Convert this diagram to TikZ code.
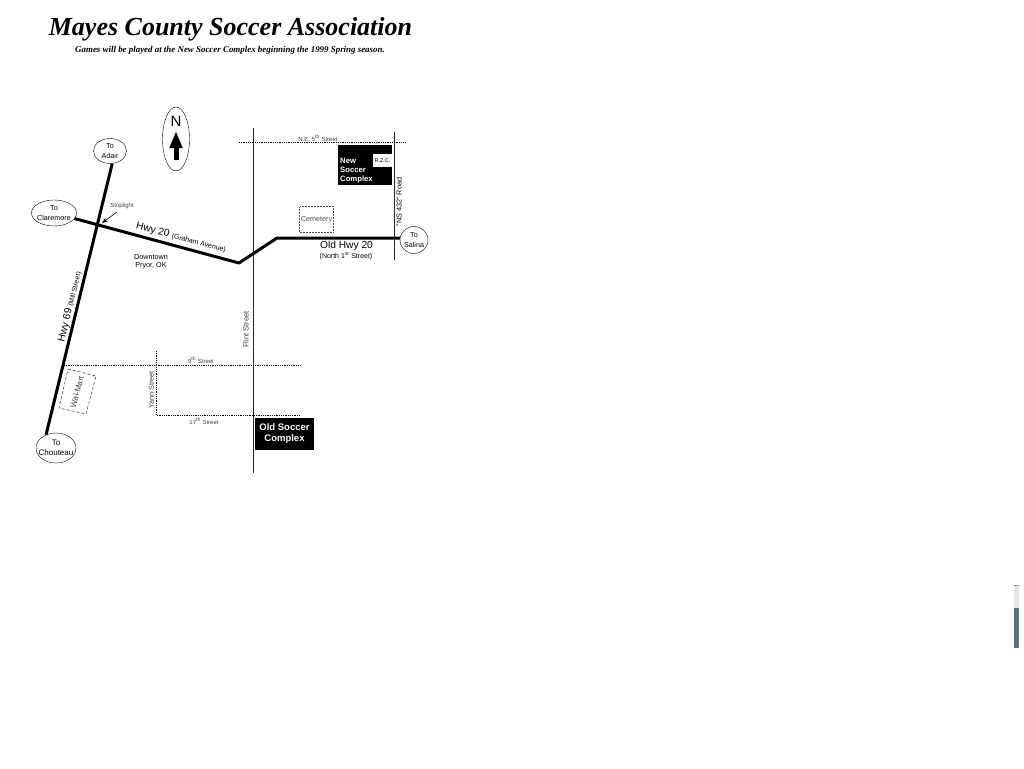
\documentclass[tikz,border=0pt]{standalone}
\usepackage{fontspec}
\setmainfont{Liberation Sans}
\newfontfamily\titlefont{Liberation Serif}
\usetikzlibrary{shapes.geometric,arrows.meta}
\definecolor{scrollthumb}{RGB}{92,112,132}
\tikzset{
  townnode/.style={shape=ellipse, draw, inner xsep=-5pt, inner ysep=-3pt, align=center, font=\fontsize{7.2}{9.5}\selectfont, fill=white},
  hwyline/.style={line width=3pt, line join=round},
  streetline/.style={line width=.8pt, densely dotted},
  flintline/.style={line width=1pt, black!85},
  smalllabel/.style={font=\fontsize{6}{7}\selectfont, text=black!75, inner sep=0pt},
  hwylabel/.style={font=\fontsize{10.2}{11}\selectfont, inner sep=0pt},
  blackbox/.style={fill=black, text=white, font=\bfseries\fontsize{7.7}{8.8}\selectfont, inner sep=0pt, align=left}
}
\begin{document}
\begin{tikzpicture}[x=1pt,y=-1pt]
\useasboundingbox (0,0) rectangle (1024,768);
\node[font=\titlefont\bfseries\itshape\fontsize{26}{30}\selectfont, inner sep=0pt, anchor=base] (title) at (230.5,35.5) {Mayes County Soccer Association};
\node[font=\titlefont\bfseries\itshape\fontsize{8.9}{10}\selectfont, inner sep=0pt] (subtitle) at (230,50) {Games will be played at the New Soccer Complex beginning the 1999 Spring season.};
% north sign
\node[shape=ellipse, draw, minimum width=27pt, minimum height=64pt] (north) at (176,139) {};
\node[font=\fontsize{15}{15}\selectfont, inner sep=0pt] (northN) at (176,121) {N};
\coordinate (arrowfoot) at (176,160);
\coordinate (arrowhead) at (176,131);
\draw[line width=5pt, -{Triangle[length=17pt,width=12pt]}] (arrowfoot)--(arrowhead);
% towns
\node[townnode, minimum width=33pt, minimum height=25pt] (adair) at (110,151) {To\\Adair};
\node[townnode, minimum width=45pt, minimum height=26pt] (claremore) at (54,213) {To\\Claremore};
\node[townnode, minimum width=40pt, minimum height=30pt, font=\fontsize{8}{10}\selectfont] (chouteau) at (56,448) {To\\Chouteau};
\node[townnode, minimum width=28pt, minimum height=27pt] (salina) at (414,240) {To\\Salina};
% highways
\coordinate (bendlow) at (239,263);
\coordinate (bendhigh) at (277,238);
\draw[hwyline] (adair.280)--(chouteau.127);
\draw[hwyline] (claremore)--(bendlow)--(bendhigh)--(salina.172);
% streets
\coordinate (flinttop) at (253,128);
\coordinate (flintfoot) at (253,473);
\coordinate (fifthleft) at (239,142);
\coordinate (fifthright) at (405,142);
\coordinate (roadtop) at (394,132);
\coordinate (roadfoot) at (394,260);
\coordinate (ninthleft) at (64,365);
\coordinate (ninthright) at (301,365);
\coordinate (yanntop) at (156,351);
\coordinate (yannfoot) at (156,415);
\coordinate (seventeenthright) at (300,415);
\draw[flintline] (flinttop)--(flintfoot);
\draw[flintline] (roadtop)--(roadfoot);
\draw[streetline] (fifthleft)--(fifthright);
\draw[streetline] (ninthleft)--(ninthright);
\draw[streetline] (yanntop)--(yannfoot)--(seventeenthright);
% places
\draw[densely dashed, line width=.5pt, black!80] (68,369)--(96,376)--(86,414)--(59,408)--cycle;
\node[smalllabel, rotate=75, font=\fontsize{8}{9}\selectfont] (walmart) at (77,392) {Wal-Mart};
\node[draw, densely dotted, black!70, line width=.5pt, minimum width=34pt, minimum height=26pt, inner sep=0pt, font=\fontsize{7.2}{8}\selectfont] (cemetery) at (316.5,219.5) {Cemetery};
\node[blackbox, minimum width=54pt, minimum height=40pt] (newbox) at (365,165) {};
\node[blackbox, anchor=west] (newlabel) at (340,170.5) {New\\Soccer\\Complex};
\node[fill=white, minimum width=19pt, minimum height=13pt, inner sep=0pt, font=\fontsize{5.5}{6}\selectfont] (rzc) at (382.5,160.5) {R.Z.C.};
\node[blackbox, align=center, minimum width=59pt, minimum height=32pt, font=\bfseries\fontsize{9.5}{11}\selectfont] (oldbox) at (284.5,434) {Old Soccer\\Complex};
% labels
\node[smalllabel] (stoplight) at (122,206) {Stoplight};
\coordinate (stoptip) at (102,223);
\coordinate (stoptail) at (117,212);
\draw[-{Stealth[length=6pt]}, line width=.6pt] (stoptail)--(stoptip);
\node[hwylabel, rotate=-14.5] (hwytwenty) at (181,238) {Hwy 20 {\fontsize{7}{7}\selectfont (Graham Avenue)}};
\node[hwylabel, rotate=76.5] (hwysixtynine) at (70,307) {Hwy 69 {\fontsize{6.8}{7}\selectfont (Mill Street)}};
\node[hwylabel] (oldhwy) at (346.5,245.5) {Old Hwy 20};
\node[smalllabel, text=black, font=\fontsize{7}{7}\selectfont] (northfirst) at (346,256) {(North 1\textsuperscript{st} Street)};
\node[smalllabel, text=black, align=center, font=\fontsize{7.2}{8.5}\selectfont] (downtown) at (151,262) {Downtown\\Pryor, OK};
\node[smalllabel] (fifthlabel) at (318,138) {N.E. 5\textsuperscript{th} Street};
\node[smalllabel, rotate=90, font=\fontsize{7.3}{7}\selectfont, text=black] (roadlabel) at (399,202) {"NS 432" Road};
\node[smalllabel, rotate=90, font=\fontsize{7.6}{8}\selectfont] (flintlabel) at (246,329.5) {Flint Street};
\node[smalllabel, rotate=90, font=\fontsize{7.2}{8}\selectfont] (yannlabel) at (151.5,390) {Yann Street};
\node[smalllabel] (ninthlabel) at (201,360) {9\textsuperscript{th} Street};
\node[smalllabel] (seventeenthlabel) at (204,421) {17\textsuperscript{th} Street};
% scroll bar
\fill[black!10] (1014,585) rectangle (1018.7,608);
\fill[black!45] (1014,584.6) rectangle (1018.7,585.6);
\fill[scrollthumb] (1014,608) rectangle (1018.7,647.5);
\end{tikzpicture}
\end{document}
